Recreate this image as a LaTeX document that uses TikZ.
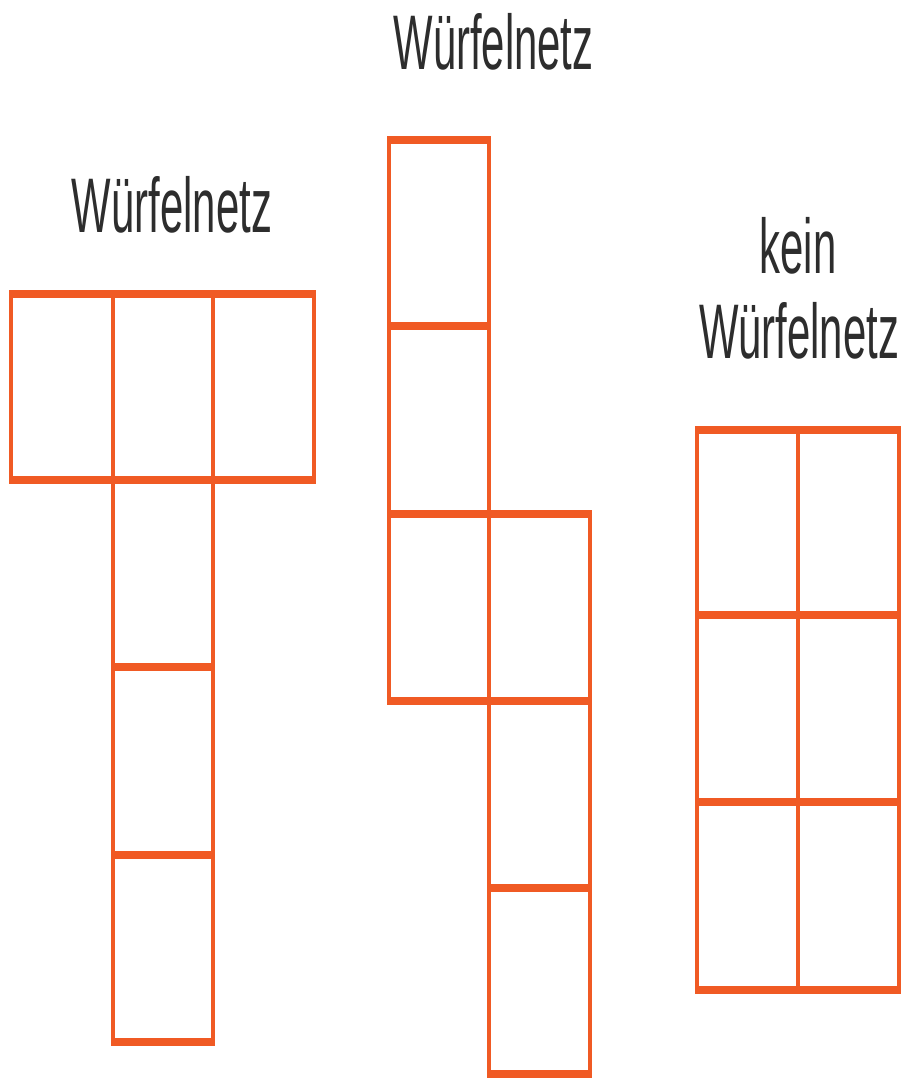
\documentclass[tikz,border=0pt]{standalone}
\usepackage{fontspec}
\setmainfont{Liberation Sans}
\definecolor{netorange}{RGB}{240,90,36}
\definecolor{txtgray}{RGB}{45,45,45}
\begin{document}
\begin{tikzpicture}[x=1pt,y=1pt]
\useasboundingbox[fill=white] (0,0) rectangle (903,-1078);
\begin{scope}[transform canvas={yscale=1.85}, x=1pt, y=-0.540541pt,
  face/.style={draw=netorange, line width=4pt, line join=miter},
  title/.style={font=\fontsize{41.85}{46}\selectfont, text=txtgray, anchor=base, inner sep=0pt}]
  % left net (T shape)
  \draw[face] (10.5,294) rectangle (112.5,480);
  \draw[face] (112.5,294) rectangle (212.5,480);
  \draw[face] (212.5,294) rectangle (314,480);
  \draw[face] (112.5,480) rectangle (212.5,667);
  \draw[face] (112.5,667) rectangle (212.5,855);
  \draw[face] (112.5,855) rectangle (212.5,1042);
  % middle net
  \draw[face] (389,140) rectangle (489,326);
  \draw[face] (389,326) rectangle (489,514);
  \draw[face] (389,514) rectangle (489,701);
  \draw[face] (489,514) rectangle (590,701);
  \draw[face] (489,701) rectangle (590,888);
  \draw[face] (489,888) rectangle (590,1074);
  % right (no net)
  \draw[face] (697,430) rectangle (797.5,615);
  \draw[face] (797.5,430) rectangle (898.5,615);
  \draw[face] (697,615) rectangle (797.5,802);
  \draw[face] (797.5,615) rectangle (898.5,802);
  \draw[face] (697,802) rectangle (797.5,990);
  \draw[face] (797.5,802) rectangle (898.5,990);
  % titles
  \node[title] (t1) at (172,232) {Würfelnetz};
  \node[title] (t2) at (493.5,70) {Würfelnetz};
  \node[title] (t3a) at (798,273) {kein};
  \node[title] (t3b) at (799,358) {Würfelnetz};
\end{scope}
\end{tikzpicture}
\end{document}
